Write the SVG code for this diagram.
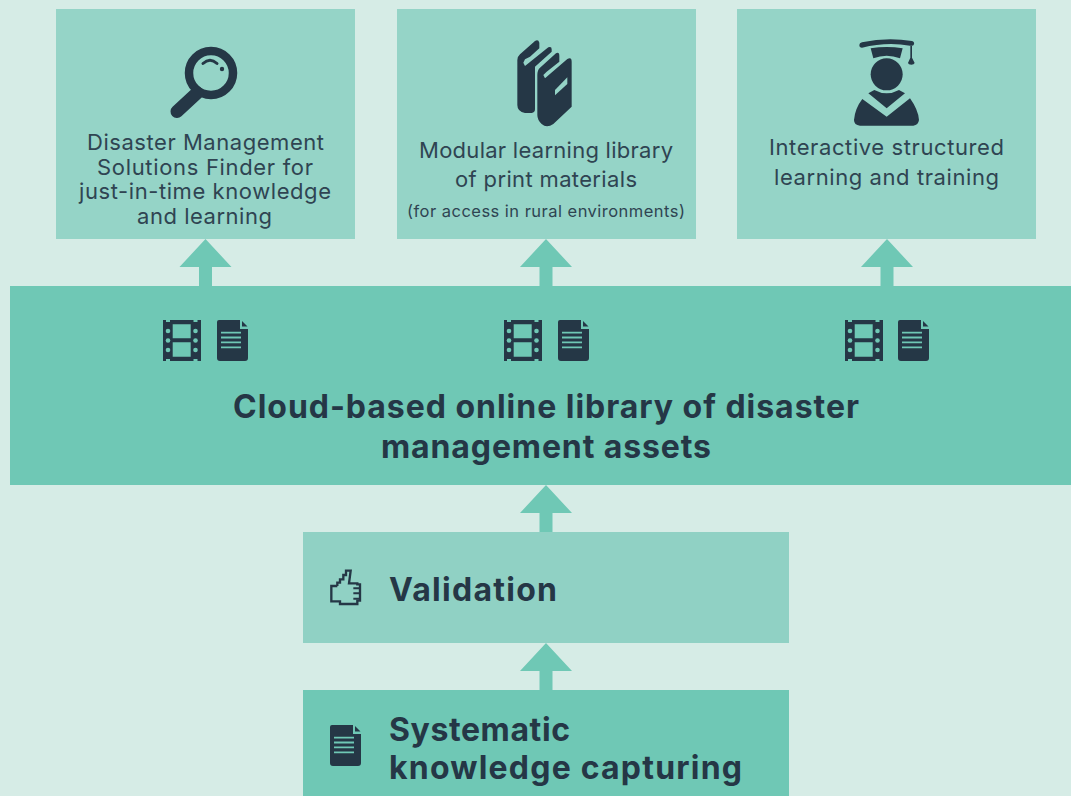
<svg xmlns="http://www.w3.org/2000/svg" xmlns:xlink="http://www.w3.org/1999/xlink" width="1071" height="796" viewBox="0 0 1071 796">
<style>
.box{fill:#95d4c7}
.band{fill:#6fc8b5}
.arrow{fill:#6fc8b5}
.ink{fill:#253746}
.t{font-family:"Inter","Liberation Sans",sans-serif;font-size:22px;fill:#2f4452}
.s{font-family:"Inter","Liberation Sans",sans-serif;font-size:16.5px;fill:#2f4452}
.b{font-family:"Inter","Liberation Sans",sans-serif;font-size:32px;font-weight:700;fill:#253746}
</style>
<defs>
<polygon id="arrow" class="arrow" points="0,0 26,28 6.5,28 6.5,48 -6.5,48 -6.5,28 -26,28"/>
<g id="film">
<path class="ink" fill-rule="evenodd" d="M163 320H201V361H163ZM172.700 324.300V338.300H190.700V324.300ZM172.700 342.300V356.700H190.700V342.300Z"/>
<g fill="#6fc8b5"><circle cx="168" cy="331" r="2.300"/><circle cx="168" cy="340.500" r="2.300"/><circle cx="168" cy="350" r="2.300"/><circle cx="195.500" cy="331" r="2.300"/><circle cx="195.500" cy="340.500" r="2.300"/><circle cx="195.500" cy="350" r="2.300"/><rect x="166" y="320" width="4" height="2"/><rect x="193.500" y="320" width="4" height="2"/><rect x="166" y="359" width="4" height="2"/><rect x="193.500" y="359" width="4" height="2"/></g>
</g>
<g id="doc">
<path class="ink" d="M219 320H240V329H248V358Q248 361 245 361H220Q217 361 217 358V322Q217 320 219 320Z"/>
<path class="ink" d="M242 321L247.500 326.500H242Z"/>
<g stroke="#6fc8b5" stroke-width="1.800"><path d="M221 332.700H241M221 337.500H241M221 342.300H241M221 347.300H241"/></g>
</g>
</defs>
<rect width="1071" height="796" fill="#d6ece6"/>
<g id="connectors">
<use xlink:href="#arrow" href="#arrow" x="205.500" y="239"/>
<use xlink:href="#arrow" href="#arrow" x="546" y="239"/>
<use xlink:href="#arrow" href="#arrow" x="887" y="239"/>
<use xlink:href="#arrow" href="#arrow" x="546" y="485"/>
<use xlink:href="#arrow" href="#arrow" x="546" y="643"/>
</g>
<g id="finder">
<rect class="box" x="56" y="9" width="299" height="230"/>
<circle cx="211" cy="73" r="22" fill="none" stroke="#253746" stroke-width="8.500"/>
<path d="M197 93L177 111.500" fill="none" stroke="#253746" stroke-width="13" stroke-linecap="round"/>
<path d="M203 63.500Q210 57 217 63.500" fill="none" stroke="#253746" stroke-width="3" stroke-linecap="round"/>
<circle cx="222" cy="69" r="2.200" class="ink"/>
<text class="t" x="87" y="150" textLength="237">Disaster Management</text>
<text class="t" x="97" y="175" textLength="216">Solutions Finder for</text>
<text class="t" x="79" y="199" textLength="252">just-in-time knowledge</text>
<text class="t" x="137" y="224" textLength="135">and learning</text>
</g>
<g id="library">
<rect class="box" x="397" y="9" width="299" height="230"/>
<g transform="translate(480 20) scale(.33333)">
<path class="ink" d="M112 120Q112 110 120 103L165 63Q175 57 178 68V85L150 110L135 118L130 128L135 138L205 82Q215 78 215 88V95L165 140V268Q165 278 155 279H135Q112 275 112 255Z"/>
<path class="ink" d="M172 165Q172 150 180 143L228 100Q238 95 238 108V125L200 155L190 165L195 175L262 117Q275 110 275 125V260L220 312Q200 325 185 312Q172 300 172 285Z"/>
<polygon class="box" points="225,210 262,172 262,192 225,226"/>
</g>
<text class="t" x="419" y="158" textLength="254">Modular learning library</text>
<text class="t" x="455" y="187" textLength="182">of print materials</text>
<text class="s" x="407" y="216.500" textLength="278">(for access in rural environments)</text>
</g>
<g id="training">
<rect class="box" x="737" y="9" width="299" height="230"/>
<g transform="translate(830 25) scale(.33333)">
<path class="ink" d="M96 52Q170 36 246 48Q254 50 252 58Q250 64 240 62Q170 50 96 68Q88 68 88 60Q88 54 96 52Z"/>
<path class="ink" d="M122 70Q170 62 218 70L210 100Q170 85 130 100Z"/>
<path class="ink" d="M241 62H246V98L254 114Q252 119 244 119Q235 119 234 114L241 98Z"/>
<circle cx="170" cy="148" r="48" class="ink"/>
<path class="ink" d="M115 205L133 195Q170 215 207 195L225 205L170 250Z"/>
<path class="ink" d="M97 222L170 275L240 220Q265 255 267 285Q265 300 250 302H90Q72 300 72 285Q75 250 97 222Z"/>
</g>
<text class="t" x="769" y="155" textLength="235">Interactive structured</text>
<text class="t" x="774" y="185" textLength="225">learning and training</text>
</g>
<g id="cloud">
<rect class="band" x="10" y="286" width="1061" height="199"/>
<use xlink:href="#film" href="#film"/>
<use xlink:href="#doc" href="#doc"/>
<use xlink:href="#film" href="#film" x="341"/>
<use xlink:href="#doc" href="#doc" x="341"/>
<use xlink:href="#film" href="#film" x="682"/>
<use xlink:href="#doc" href="#doc" x="681"/>
<text class="b" x="233" y="418" textLength="626">Cloud-based online library of disaster</text>
<text class="b" x="381" y="458" textLength="330">management assets</text>
</g>
<g id="validation">
<rect x="303" y="532" width="486" height="111" fill="#90d1c4"/>
<g transform="translate(310 550) scale(.33333)">
<path fill="none" stroke="#253746" stroke-width="7" d="M82 108H64V154H90V162H142V152H150V103H142V100H117L122 62H108V75H100V88H90V98H82V108"/>
<path fill="none" stroke="#253746" stroke-width="6" d="M130 115H148M130 130H148M130 146H148"/>
</g>
<text class="b" x="389" y="601" textLength="168">Validation</text>
</g>
<g id="capturing">
<rect class="band" x="303" y="690" width="486" height="106"/>
<use xlink:href="#doc" href="#doc" x="113" y="405"/>
<text class="b" x="389" y="741" textLength="181">Systematic</text>
<text class="b" x="389" y="779" textLength="353">knowledge capturing</text>
</g>
</svg>
